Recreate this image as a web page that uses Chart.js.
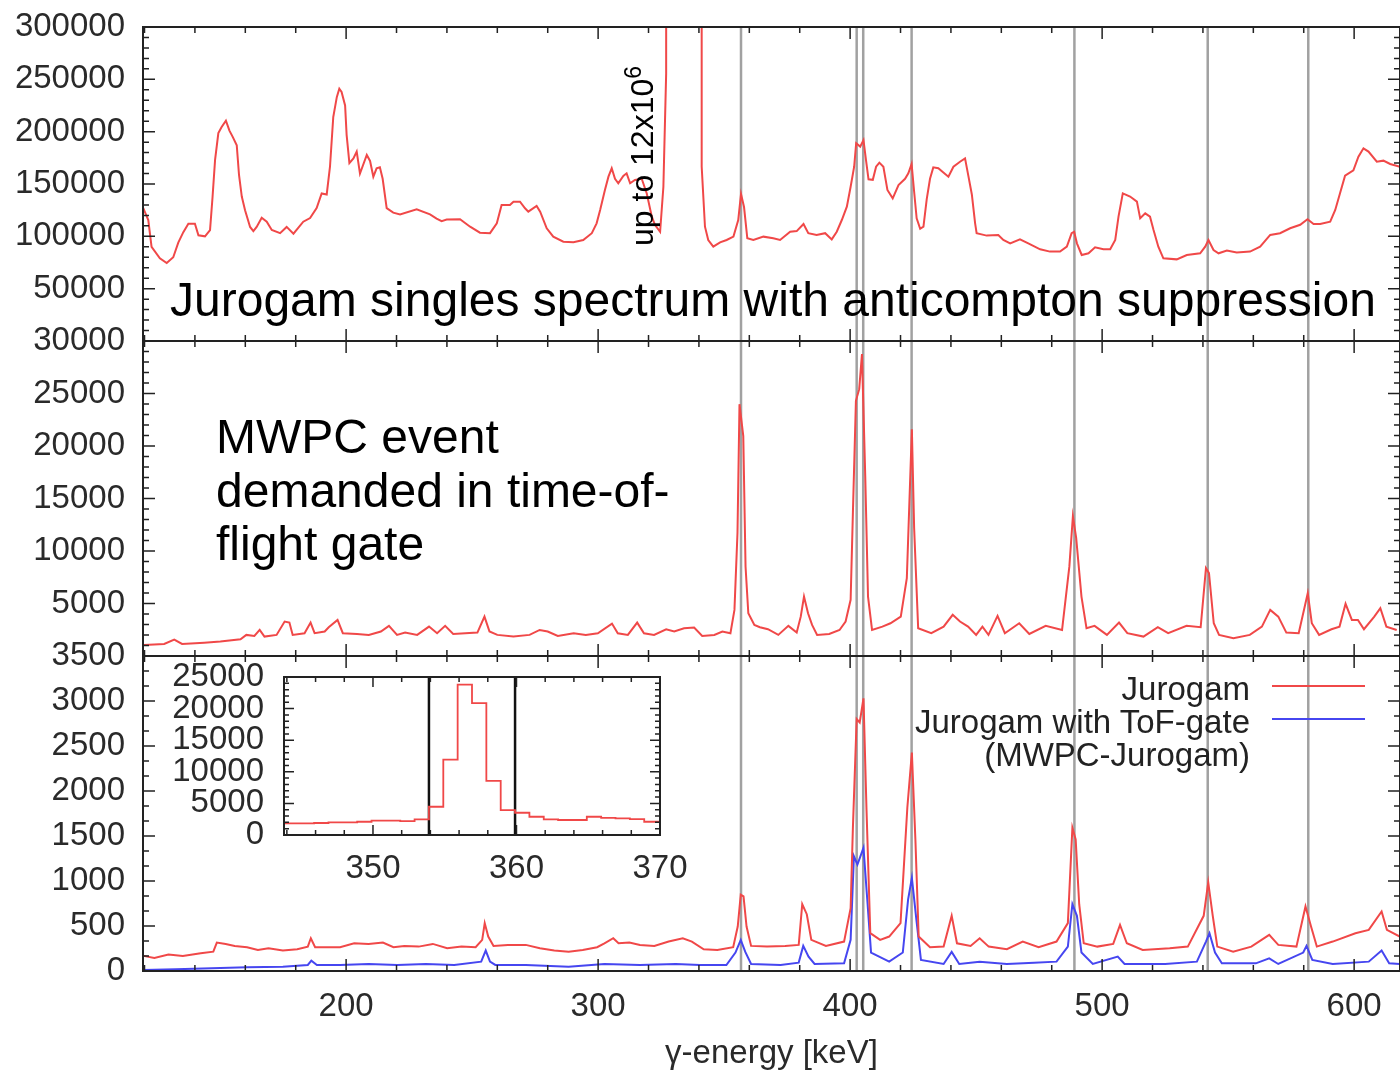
<!DOCTYPE html>
<html>
<head>
<meta charset="utf-8">
<title>Jurogam spectra</title>
<script src="https://cdn.jsdelivr.net/npm/chart.js@4.4.1/dist/chart.umd.min.js"></script>
<style>
    body { margin: 0; width: 1400px; height: 1074px; background: #fff; position: relative; overflow: hidden;
           font-family: "Liberation Sans", Arial, sans-serif; }
    canvas { position: absolute; left: 0; }
    .note { position: absolute; color: #000; white-space: nowrap; }
    .key { position: absolute; height: 2px; }
</style>
</head>
<body>
<canvas id="topChart" width="1400" height="360" style="top:0"></canvas>
<canvas id="midChart" width="1400" height="356" style="top:320px"></canvas>
<canvas id="botChart" width="1400" height="439" style="top:635px"></canvas>
<canvas id="insetChart" width="570" height="240" style="top:655px; left:150px"></canvas>

<div class="note" style="left:170px; top:276px; font-size:48px; line-height:48px;">Jurogam singles spectrum with anticompton suppression</div>
<div class="note" style="left:216px; top:410px; font-size:48px; line-height:53.5px;">MWPC event<br>demanded in time-of-<br>flight gate</div>
<div class="note" style="left:627px; top:246px; font-size:32px; line-height:31px; transform-origin:0 0; transform:rotate(-90deg);">up to 12x10<sup style="font-size:23px; line-height:0;">6</sup></div>
<div class="note" style="right:150px; top:672px; font-size:33px; line-height:33px; text-align:right; color:#222;">Jurogam<br>Jurogam with ToF-gate<br>(MWPC-Jurogam)</div>
<div class="key" style="left:1272px; top:685px; width:93px; background:#f04848;"></div>
<div class="key" style="left:1272px; top:718px; width:93px; background:#4646f0;"></div>

<script>
// energy axis shared by the three panels
const energyMin = 119.4;
const energyMax = 618.2;
const energyLabels = [200, 300, 400, 500, 600];

// gamma lines marked with grey verticals (keV)
const markedLines = [356.7, 402.6, 405.2, 424.4, 489.0, 541.9, 581.8];

// top panel: singles with anticompton suppression
const singlesEnergy = [119.5, 121.5, 122.8, 126.1, 128.8, 131.4, 133.4, 135.4, 137.4, 140.0, 141.4, 144.0, 146.0, 147.0, 148.0,
    149.3, 150.6, 152.3, 153.7, 155.0, 156.6, 157.5, 158.6, 159.9, 161.9, 163.2, 164.5, 166.5, 168.5, 170.5, 173.8, 176.4,
    179.1, 183.0, 185.7, 188.3, 190.3, 192.3, 193.6, 194.9, 196.3, 197.3, 198.2, 199.6, 200.2, 201.3, 202.9, 204.2, 205.5,
    208.2, 209.5, 210.8, 212.1, 213.4, 214.5, 216.1, 218.7, 221.4, 228.0, 233.3, 235.9, 237.9, 239.9, 245.2, 249.2, 253.1,
    257.1, 259.8, 261.7, 265.0, 266.4, 269.0, 271.0, 272.3, 275.6, 277.0, 279.6, 282.2, 286.2, 290.2, 294.1, 297.5, 299.4,
    300.8, 302.7, 304.1, 305.4, 306.7, 308.0, 310.0, 311.3, 312.7, 314.6, 317.3, 319.3, 321.3, 322.6, 324.6, 325.9, 327.0,
    327.5, 340.7, 341.1, 342.4, 343.7, 345.7, 348.4, 351.0, 353.7, 355.6, 356.7, 357.9, 359.2, 361.6, 365.6, 369.5, 372.2,
    376.2, 378.8, 381.5, 383.4, 386.7, 390.1, 392.7, 394.7, 396.7, 398.7, 400.2, 401.6, 402.4, 404.0, 405.3, 406.3, 407.3,
    409.0, 410.3, 411.6, 413.2, 414.8, 416.9, 419.2, 421.8, 423.1, 424.4, 425.4, 426.4, 427.8, 429.1, 430.4, 431.7, 433.0,
    435.0, 437.0, 439.0, 441.0, 443.6, 445.6, 446.9, 448.3, 449.6, 450.2, 454.2, 458.8, 460.8, 463.5, 467.4, 470.7, 475.4,
    479.3, 483.3, 486.0, 487.9, 488.9, 490.0, 491.9, 494.6, 497.2, 500.5, 503.2, 505.2, 506.5, 508.2, 511.1, 513.8, 515.1,
    517.1, 519.0, 520.4, 522.3, 524.3, 529.6, 533.6, 538.9, 540.9, 542.2, 544.2, 546.2, 549.5, 553.4, 558.7, 562.7, 566.7,
    570.6, 574.6, 578.6, 581.5, 583.9, 586.5, 590.5, 592.5, 594.4, 596.4, 599.7, 601.7, 603.7, 605.7, 609.0, 611.6, 614.3, 618.2];
const singlesCounts = [127000, 115600, 90000, 79000, 74500, 80000, 94000, 104000, 112000, 112000, 101000, 100000, 106000, 137600, 173000,
    198700, 204500, 210500, 201000, 195000, 187000, 158600, 138000, 125000, 109000, 105000, 109000, 117800, 114000, 106000, 103000, 109000,
    102500, 114000, 117500, 127000, 141000, 140000, 166500, 214000, 233000, 241000, 238000, 225000, 197000, 170000, 174500, 181000, 160000,
    177700, 172000, 157000, 165000, 166000, 155000, 127000, 122600, 121000, 125800, 121000, 117000, 114500, 116000, 116300, 109200, 103500,
    103000, 112400, 130000, 130000, 133100, 133100, 126800, 123600, 129000, 123600, 107700, 99700, 94900, 94300, 96500, 103000, 112400,
    125200, 144300, 157000, 165000, 155000, 150700, 157800, 160200, 150700, 153900, 155000, 141000, 118800, 110800, 104400, 147400, 255700,
    12000000, 12000000, 166500, 109200, 96500, 90100, 94300, 96500, 99700, 115600, 140400, 128000, 98100, 96500, 99700, 98100, 96500,
    104400, 105000, 111800, 103000, 101300, 103000, 97100, 104400, 115600, 128300, 147400, 166500, 188900, 185700, 192000, 172900, 154500,
    154000, 166500, 170400, 166500, 144300, 136300, 149000, 155000, 160200, 169100, 142600, 117200, 107200, 109200, 135600, 155000, 165900,
    165000, 161000, 157000, 166500, 171300, 174500, 158000, 140000, 112400, 103000, 100700, 101300, 96500, 93300, 97100, 93300, 87600,
    85400, 85400, 90200, 103000, 104400, 93300, 82200, 83800, 89500, 87600, 87600, 96500, 118800, 141100, 138000, 133200, 117200,
    122000, 118800, 106000, 90100, 79000, 78000, 82200, 83800, 90100, 96500, 86900, 83800, 86400, 84500, 85400, 90100, 101300,
    103000, 107700, 111000, 116300, 111800, 111800, 114000, 125200, 141100, 158000, 163000, 176100, 184100, 181000, 171300, 172300, 169100, 166500];

// middle panel: MWPC event in time-of-flight gate
const mwpcEnergy = [119.8, 127.8, 131.8, 134.9, 143.7, 150.1, 158.1, 160.4, 163.6, 165.7, 167.6, 172.4, 175.6, 177.5, 178.8, 183.5,
    185.9, 187.5, 191.5, 193.1, 196.6, 198.7, 204.3, 209.0, 213.8, 217.0, 220.2, 223.4, 228.2, 232.9, 236.1, 239.3, 242.5, 247.3,
    252.1, 254.9, 256.9, 260.0, 266.4, 272.8, 276.8, 280.0, 284.0, 290.3, 295.1, 299.9, 305.5, 307.8, 311.8, 315.5, 318.2, 322.2,
    327.0, 330.2, 334.1, 338.1, 341.3, 346.1, 349.3, 352.5, 354.1, 355.3, 356.1, 357.6, 358.5, 359.6, 362.0, 364.2, 367.4, 371.5,
    375.5, 378.8, 380.4, 381.7, 383.3, 384.9, 386.9, 391.7, 395.8, 398.2, 400.2, 401.1, 402.3, 403.6, 404.7, 406.0, 407.1, 408.7,
    412.8, 416.0, 420.1, 422.5, 424.5, 425.4, 427.0, 432.2, 437.1, 440.7, 443.6, 446.8, 450.0, 452.5, 454.9, 458.5, 461.4, 467.1,
    471.1, 477.6, 484.1, 487.0, 488.4, 489.7, 491.8, 493.8, 497.0, 501.9, 506.7, 510.0, 516.4, 522.1, 526.2, 533.5, 539.1, 541.2,
    542.4, 544.3, 546.4, 552.1, 558.6, 563.4, 566.7, 569.9, 573.1, 578.0, 580.4, 581.6, 583.2, 586.1, 591.0, 594.2, 596.6, 599.1,
    601.5, 603.9, 608.0, 610.4, 612.8, 616.9];
const mwpcCounts = [1050, 1150, 1560, 1150, 1270, 1370, 1590, 2010, 1910, 2480, 1850, 2010, 3280, 3180, 2010, 2170,
    3180, 2170, 2330, 2740, 3440, 2170, 2100, 2010, 2330, 2870, 2010, 2230, 2010, 2800, 2170, 2870, 2100, 2170,
    2230, 3750, 2330, 2010, 1850, 2010, 2480, 2330, 1910, 2170, 2010, 2170, 3090, 2170, 2010, 3180, 2170, 2010,
    2550, 2330, 2640, 2710, 1910, 2010, 2330, 2170, 4390, 11720, 23980, 20950, 8530, 4070, 2960, 2740, 2550, 2010,
    2870, 2230, 3750, 5660, 4070, 2960, 2010, 2100, 2480, 3280, 5350, 13630, 24300, 25410, 28760, 17130, 5660, 2480,
    2800, 3120, 3750, 7420, 21590, 12200, 2640, 2170, 2800, 3920, 3280, 2800, 2010, 2800, 2010, 3820, 2170, 3120,
    2100, 2870, 2480, 8530, 13310, 11250, 5660, 2640, 2870, 2010, 3180, 2170, 1850, 2740, 2170, 2870, 2740, 8370,
    7900, 3120, 2010, 1690, 2010, 2800, 4390, 3750, 2230, 2170, 4710, 5980, 3120, 2010, 2550, 2800, 4970, 3440,
    3440, 2550, 3750, 4550, 2800, 2480];

// bottom panel: Jurogam (red) and Jurogam with ToF-gate (blue)
const jurogamEnergy = [119.6, 123.9, 129.5, 135.2, 142.3, 147.3, 148.7, 152.2, 155.8, 160.7, 165.0, 169.2, 174.9, 180.6, 184.8,
    186.0, 187.7, 193.3, 197.6, 203.2, 208.9, 214.6, 218.8, 223.1, 228.8, 234.4, 240.1, 245.8, 251.4, 254.0, 255.0, 256.4,
    258.5, 264.2, 271.3, 276.9, 282.6, 288.3, 293.9, 299.6, 302.5, 306.0, 308.1, 312.4, 316.6, 322.3, 328.0, 333.6, 337.2,
    341.9, 347.3, 353.6, 355.4, 356.6, 357.7, 358.9, 360.7, 367.0, 374.2, 379.6, 381.0, 382.8, 384.6, 390.4, 397.6, 400.2,
    401.1, 402.6, 403.8, 405.3, 406.5, 408.0, 411.9, 415.5, 420.0, 422.7, 424.5, 425.9, 427.2, 431.7, 437.1, 440.3, 442.4,
    447.8, 451.4, 455.0, 462.2, 468.5, 474.8, 481.9, 486.4, 488.2, 489.5, 490.9, 492.7, 498.1, 504.4, 507.1, 509.8, 516.1,
    526.8, 534.0, 540.3, 542.1, 543.9, 545.7, 552.0, 559.2, 566.3, 569.9, 577.1, 580.7, 582.9, 585.2, 591.5, 600.5, 605.8,
    610.9, 613.0, 618.1];
const jurogamCounts = [168, 145, 182, 168, 197, 215, 316, 301, 279, 264, 234, 253, 227, 242, 271,
    364, 264, 264, 264, 308, 301, 316, 264, 279, 271, 301, 253, 271, 264, 346, 532, 383,
    279, 290, 290, 253, 227, 215, 234, 264, 308, 364, 308, 316, 290, 279, 327, 364, 327,
    242, 234, 264, 494, 847, 829, 494, 279, 271, 279, 290, 742, 631, 346, 279, 327, 699,
    1591, 2799, 2762, 3029, 1795, 420, 346, 383, 532, 1814, 2427, 1461, 383, 264, 271, 613, 308,
    279, 364, 271, 242, 327, 264, 327, 532, 1591, 1461, 742, 308, 271, 301, 513, 308, 234,
    253, 271, 613, 985, 613, 271, 215, 271, 401, 290, 271, 717, 494, 271, 327, 420, 457,
    661, 457, 383];
const tofEnergy = [119.6, 132.4, 146.6, 160.7, 174.9, 184.8, 186.2, 188.4, 197.6, 208.9, 220.3, 231.6, 242.9, 253.6, 255.4,
    257.1, 259.2, 271.3, 288.3, 302.5, 316.6, 330.8, 340.4, 350.9, 354.5, 356.6, 358.4, 360.7, 372.4, 379.6, 381.4, 383.5,
    385.9, 397.6, 400.2, 401.5, 402.9, 405.3, 406.9, 408.3, 415.5, 420.9, 423.0, 424.5, 426.3, 428.1, 437.1, 440.3, 443.3,
    451.4, 462.2, 473.0, 481.9, 486.4, 488.2, 490.0, 491.8, 496.3, 506.2, 508.9, 525.0, 537.6, 541.2, 542.6, 544.8, 547.5,
    561.0, 566.3, 569.9, 579.8, 581.1, 583.4, 591.5, 605.8, 610.9, 613.9, 618.1];
const tofCounts = [11, 19, 30, 41, 48, 67, 115, 67, 67, 78, 67, 78, 67, 104, 227,
    104, 67, 67, 48, 78, 67, 78, 67, 67, 205, 346, 212, 78, 67, 93, 279, 160,
    78, 85, 346, 1275, 1182, 1368, 755, 205, 104, 205, 793, 1034, 569, 123, 78, 212, 78,
    104, 78, 93, 104, 271, 742, 613, 205, 78, 160, 78, 78, 104, 327, 420, 205, 85,
    85, 141, 78, 205, 279, 123, 78, 104, 227, 85, 78];

// inset: 356 keV line, 1 keV bins, gate limits
const insetEnergy = [343.4, 344.4, 345.4, 346.4, 347.4, 348.4, 349.4, 350.4, 351.4, 352.4, 353.4, 354.4, 355.4, 356.4,
    357.4, 358.4, 359.4, 360.4, 361.4, 362.4, 363.4, 364.4, 365.4, 366.4, 367.4, 368.4, 369.4, 370.4];
const insetCounts = [1840, 1840, 1840, 1900, 2000, 2000, 2100, 2260, 2260, 2200, 2470, 4470, 11940, 23800,
    20870, 8570, 3940, 3520, 2890, 2470, 2370, 2370, 2890, 2700, 2630, 2500, 2100, 2100];
const gateLimits = [353.9, 359.9];
const insetXLabels = [350, 360, 370];
const insetYLabels = [0, 5000, 10000, 15000, 20000, 25000];

const singlesYLabels = [50000, 100000, 150000, 200000, 250000, 300000];
const mwpcYLabels = [5000, 10000, 15000, 20000, 25000, 30000];
const jurogamYLabels = [0, 500, 1000, 1500, 2000, 2500, 3000, 3500];

const RED = "#f04848";
const BLUE = "#4646f0";

Chart.defaults.font.family = "'Liberation Sans', Arial, sans-serif";
Chart.defaults.font.size = 33;
Chart.defaults.color = "#2a2a2a";

function toPoints(xs, ys) {
    return xs.map((x, i) => ({ x: x, y: ys[i] }));
}

function tickList(from, to, step, majorStep) {
    let out = [];
    for (let v = from; v <= to + 1e-6; v += step) {
        let r = Math.round(v * 1000) / 1000;
        out.push([r, Math.abs(r / majorStep - Math.round(r / majorStep)) < 1e-6]);
    }
    return out;
}

// keep chart.js from growing the layout around the outer tick labels
function fixWidth(w) {
    return s => { s.width = w; s.paddingTop = 0; s.paddingBottom = 0; };
}
function fixHeight(h) {
    return s => { s.height = h; s.paddingLeft = 0; s.paddingRight = 0; };
}

// gnuplot-like frame with inward ticks on all four sides
const frameTicks = {
    id: "frameTicks",
    afterDraw(chart, args, opts) {
        const ctx = chart.ctx;
        const a = chart.chartArea;
        const x = chart.scales.x, y = chart.scales.y;
        ctx.save();
        ctx.strokeStyle = "#222";
        ctx.lineWidth = 1.5;
        ctx.beginPath();
        opts.xTicks.forEach(([v, major]) => {
            const p = x.getPixelForValue(v);
            if (p < a.left - 1 || p > a.right + 1) return;
            const len = major ? opts.major : opts.minor;
            ctx.moveTo(p, a.top); ctx.lineTo(p, a.top + len);
            ctx.moveTo(p, a.bottom); ctx.lineTo(p, a.bottom - len);
        });
        opts.yTicks.forEach(([v, major]) => {
            const p = y.getPixelForValue(v);
            const len = major ? opts.major : opts.minor;
            ctx.moveTo(a.left, p); ctx.lineTo(a.left + len, p);
            ctx.moveTo(a.right, p); ctx.lineTo(a.right - len, p);
        });
        ctx.stroke();
        ctx.lineWidth = 2;
        ctx.strokeRect(a.left, a.top, a.right - a.left, a.bottom - a.top);
        ctx.restore();
    }
};

// vertical marker lines at given energies
const markLines = {
    id: "markLines",
    beforeDatasetsDraw(chart, args, opts) {
        const ctx = chart.ctx;
        const a = chart.chartArea;
        ctx.save();
        ctx.strokeStyle = opts.color;
        ctx.lineWidth = opts.width;
        opts.values.forEach(v => {
            const p = chart.scales.x.getPixelForValue(v);
            ctx.beginPath();
            ctx.moveTo(p, a.top);
            ctx.lineTo(p, a.bottom);
            ctx.stroke();
        });
        ctx.restore();
    }
};

const xTicksMain = tickList(120, 600, 20, 100);

function makePanel(id, cfg) {
    return new Chart(document.getElementById(id), {
        type: "line",
        data: { datasets: cfg.datasets },
        options: {
            responsive: false,
            animation: false,
            events: [],
            layout: { padding: { top: cfg.padTop, bottom: cfg.padBottom, left: 0, right: 0 } },
            elements: { point: { radius: 0 }, line: { borderWidth: 2, tension: 0 } },
            plugins: {
                legend: { display: false },
                tooltip: { enabled: false },
                frameTicks: { xTicks: xTicksMain, yTicks: cfg.yTicks, major: 12, minor: 6 },
                markLines: { values: markedLines, color: "rgba(130,130,130,0.75)", width: 2.5 }
            },
            scales: {
                x: cfg.xScale,
                y: {
                    type: "linear",
                    min: cfg.yMin,
                    max: cfg.yMax,
                    grid: { display: false, drawTicks: false },
                    border: { display: false },
                    afterBuildTicks: s => { s.ticks = cfg.yLabels.map(v => ({ value: v })); },
                    afterFit: fixWidth(143),
                    ticks: { padding: 18, autoSkip: false, callback: v => String(v) }
                }
            }
        },
        plugins: [frameTicks, markLines]
    });
}

const hiddenX = { type: "linear", min: energyMin, max: energyMax, display: false };

makePanel("topChart", {
    padTop: 27, padBottom: 19,
    yMin: 0, yMax: 300000, yLabels: singlesYLabels,
    yTicks: tickList(0, 300000, 10000, 50000),
    xScale: hiddenX,
    datasets: [{ data: toPoints(singlesEnergy, singlesCounts), borderColor: RED, borderWidth: 2 }]
});

makePanel("midChart", {
    padTop: 21, padBottom: 20,
    yMin: 0, yMax: 30000, yLabels: mwpcYLabels,
    yTicks: tickList(0, 30000, 1000, 5000),
    xScale: hiddenX,
    datasets: [{ data: toPoints(mwpcEnergy, mwpcCounts), borderColor: RED, borderWidth: 2 }]
});

makePanel("botChart", {
    padTop: 21, padBottom: 0,
    yMin: 0, yMax: 3500, yLabels: jurogamYLabels,
    yTicks: tickList(0, 3500, 500 / 3, 500),
    xScale: {
        type: "linear", min: energyMin, max: energyMax,
        grid: { display: false, drawTicks: false },
        border: { display: false },
        afterBuildTicks: s => { s.ticks = energyLabels.map(v => ({ value: v })); },
        afterFit: fixHeight(103),
        ticks: { padding: 16, autoSkip: false, maxRotation: 0, callback: v => String(v) },
        title: { display: true, text: "γ-energy [keV]", padding: { top: 0, bottom: 0 }, color: "#2a2a2a" }
    },
    datasets: [
        { data: toPoints(jurogamEnergy, jurogamCounts), borderColor: RED, borderWidth: 2 },
        { data: toPoints(tofEnergy, tofCounts), borderColor: BLUE, borderWidth: 2 }
    ]
});

// inset with the 356 keV line and the gate
new Chart(document.getElementById("insetChart"), {
    type: "line",
    data: {
        datasets: [{ data: toPoints(insetEnergy, insetCounts), borderColor: RED, borderWidth: 1.8, stepped: "middle" }]
    },
    options: {
        responsive: false,
        animation: false,
        events: [],
        layout: { padding: { top: 22, bottom: 0, left: 0, right: 60 } },
        elements: { point: { radius: 0 } },
        plugins: {
            legend: { display: false },
            tooltip: { enabled: false },
            frameTicks: { xTicks: tickList(344, 370, 2, 10), yTicks: tickList(0, 25000, 1000, 5000), major: 10, minor: 5 },
            markLines: { values: gateLimits, color: "#111", width: 2.5 }
        },
        scales: {
            x: {
                type: "linear", min: 343.8, max: 370,
                grid: { display: false, drawTicks: false },
                border: { display: false },
                afterBuildTicks: s => { s.ticks = insetXLabels.map(v => ({ value: v })); },
                afterFit: fixHeight(60),
                ticks: { padding: 14, autoSkip: false, maxRotation: 0, callback: v => String(v) }
            },
            y: {
                type: "linear", min: 0, max: 25000,
                grid: { display: false, drawTicks: false },
                border: { display: false },
                afterBuildTicks: s => { s.ticks = insetYLabels.map(v => ({ value: v })); },
                afterFit: fixWidth(134),
                ticks: { padding: 20, autoSkip: false, callback: v => String(v) }
            }
        }
    },
    plugins: [frameTicks, markLines]
});
</script>
</body>
</html>
